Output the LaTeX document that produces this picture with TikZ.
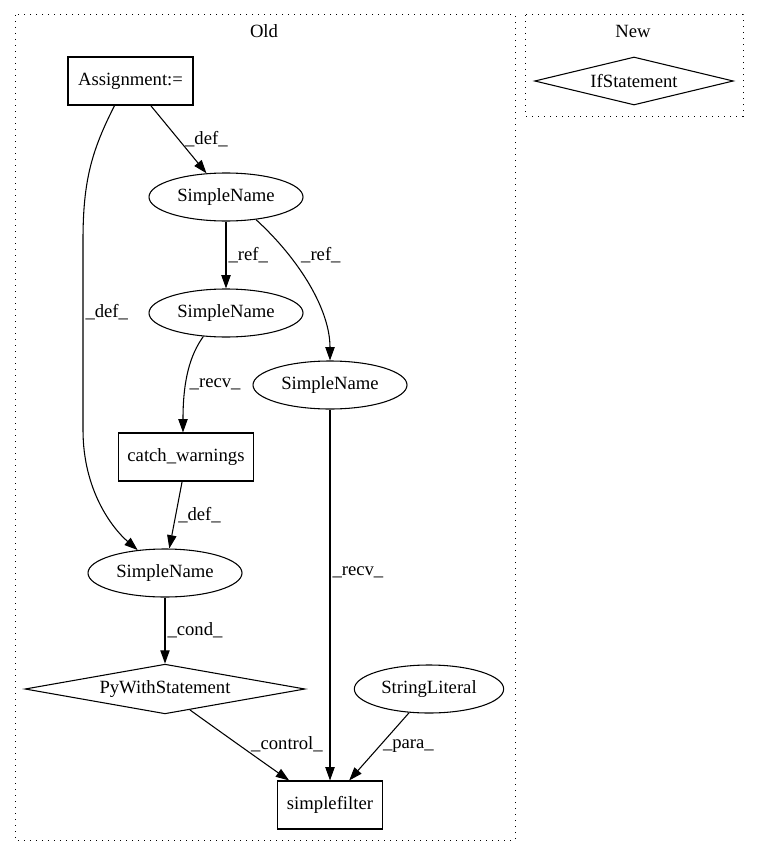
\documentclass[tikz,border=0pt]{standalone}
\usepackage{fontspec}
\setmainfont{Liberation Serif}
\usetikzlibrary{shapes.geometric,arrows.meta}

\begin{document}
\begin{tikzpicture}[x=0.75pt, y=-0.75pt,
		every node/.style={font=\fontsize{14pt}{16pt}\selectfont},
		boks/.style={draw, rectangle, line width=0.8pt, minimum height=36pt, inner sep=0pt},
		oval/.style={draw, ellipse, line width=0.8pt, minimum width=115.5pt, minimum height=36pt, inner sep=0pt},
		rute/.style={draw, diamond, shape aspect=4, line width=0.8pt, minimum height=35pt, inner sep=0pt},
		kant/.style={-{Triangle[length=10pt, width=7pt]}, line width=0.8pt},
		etikett/.style={inner sep=1.5pt},
		klynge/.style={line width=0.75pt, dash pattern=on 0.9pt off 3.6pt}]
		\useasboundingbox (0,0) rectangle (760,856);

		% Klynger
		\draw[klynge] (15,15) rectangle (515,840);
		\node (oldlbl) at (264,31) {Old};
		\draw[klynge] (525,15) rectangle (743,116);
		\node (newlbl) at (633,31) {New};

		% Noder i Old
		\node[boks, minimum width=93.75pt] (asg) at (130.5,81) {Assignment:=};
		\node[oval] (sn1) at (226,197) {SimpleName};
		\node[oval] (sn2) at (226,313) {SimpleName};
		\node[oval] (sn3) at (330,385) {SimpleName};
		\node[boks, minimum width=101pt] (cw) at (186,457) {catch\_warnings};
		\node[oval] (sn4) at (165,573) {SimpleName};
		\node[rute, minimum width=210pt] (pw) at (165,689) {PyWithStatement};
		\node[oval, minimum width=112pt] (sl) at (429,689) {StringLiteral};
		\node[boks, minimum width=79pt] (sf) at (330,805) {simplefilter};

		% Node i New
		\node[rute, minimum width=149pt, minimum height=36pt] (ifs) at (634,81) {IfStatement};

		% Kanter
		\draw[kant] (asg) -- node[etikett, right, pos=0.5, xshift=3pt] (l1) {\_def\_} (sn1);
		\draw[kant] (asg.237) .. controls (92,150) and (83,180) .. (83,240)
			-- node[etikett, right, pos=0.38] (l2) {\_def\_} (83,430)
			.. controls (83,490) and (112,528) .. (sn4.140);
		\draw[kant] (sn1) -- node[etikett, right, midway] (l3) {\_ref\_} (sn2);
		\draw[kant] (sn1.-37) .. controls (300,260) and (330,310) .. node[etikett, right, pos=0.28, xshift=7pt] (l4) {\_ref\_} (sn3.north);
		\draw[kant] (sn2.226) .. controls (190,355) and (183,380) .. node[etikett, right, pos=0.63, xshift=1pt] (l5) {\_recv\_} (cw.97);
		\draw[kant] (cw.261) -- node[etikett, right, midway] (l6) {\_def\_} (sn4.80);
		\draw[kant] (sn4) -- node[etikett, right, midway] (l7) {\_cond\_} (pw);
		\draw[kant] (sn3) -- node[etikett, right, pos=0.44] (l8) {\_recv\_} (sf);
		\draw[kant] (pw.-40) .. controls (215,728) and (260,760) .. node[etikett, right, pos=0.5, xshift=8pt] (l9) {\_control\_} (sf.149);
		\draw[kant] (sl.230) -- node[etikett, right, pos=0.5, xshift=1pt] (l10) {\_para\_} (sf.52);
	\end{tikzpicture}
\end{document}
